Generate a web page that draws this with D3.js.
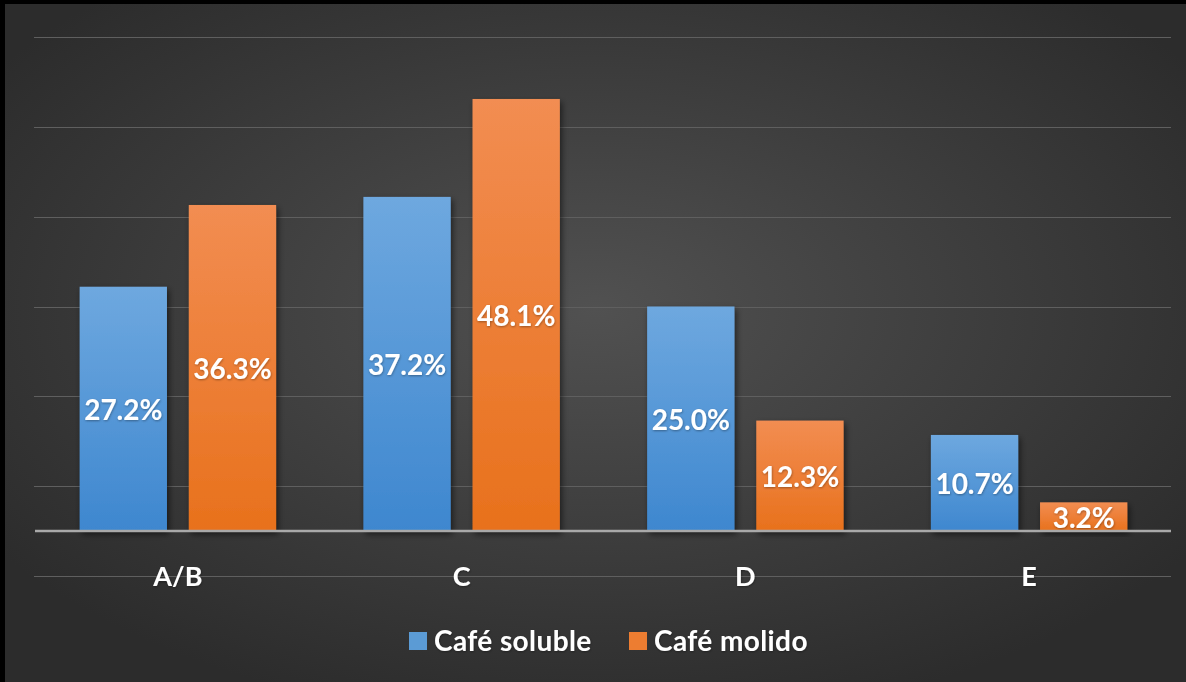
<!DOCTYPE html>
<html>
<head>
<meta charset="utf-8">
<script src="https://cdn.jsdelivr.net/npm/d3@7"></script>
<style>
  html, body { margin: 0; padding: 0; background: #000; }
  svg { display: block; }
  text { font-family: Lato, "Open Sans", sans-serif; font-weight: 700; fill: #fff; }
</style>
</head>
<body>
<svg id="chart" width="1186" height="682"></svg>
<script>
// Category groups and the two series (percent values)
const categories = ["A/B", "C", "D", "E"];
const seriesNames = ["Café soluble", "Café molido"];
const solubleValues = [27.2, 37.2, 25.0, 10.7];
const molidoValues = [36.3, 48.1, 12.3, 3.2];
// Horizontal gridline positions (percent)
const gridValues = [-5, 5, 15, 25, 35, 45, 55];

const W = 1186, H = 682;
const svg = d3.select("#chart");
const defs = svg.append("defs");

// Background: black frame with a radial dark-gray panel
const bg = defs.append("radialGradient").attr("id", "bgGrad")
  .attr("cx", "50%").attr("cy", "45%").attr("r", "62%");
bg.append("stop").attr("offset", "0%").attr("stop-color", "#515151");
bg.append("stop").attr("offset", "100%").attr("stop-color", "#2c2c2c");

const blueGrad = defs.append("linearGradient").attr("id", "blueGrad")
  .attr("x1", 0).attr("y1", 0).attr("x2", 0).attr("y2", 1);
blueGrad.append("stop").attr("offset", "0%").attr("stop-color", "#6ea8df");
blueGrad.append("stop").attr("offset", "100%").attr("stop-color", "#3e87cf");

const orangeGrad = defs.append("linearGradient").attr("id", "orangeGrad")
  .attr("x1", 0).attr("y1", 0).attr("x2", 0).attr("y2", 1);
orangeGrad.append("stop").attr("offset", "0%").attr("stop-color", "#f28d52");
orangeGrad.append("stop").attr("offset", "100%").attr("stop-color", "#e8711c");

const shadow = defs.append("filter").attr("id", "barShadow")
  .attr("x", "-20%").attr("y", "-20%").attr("width", "140%").attr("height", "140%");
shadow.append("feDropShadow").attr("dx", 2).attr("dy", 3).attr("stdDeviation", 3)
  .attr("flood-color", "#000").attr("flood-opacity", 0.55);

const textShadow = defs.append("filter").attr("id", "textShadow")
  .attr("x", "-10%").attr("y", "-20%").attr("width", "120%").attr("height", "140%");
textShadow.append("feDropShadow").attr("dx", 0.5).attr("dy", 1).attr("stdDeviation", 1)
  .attr("flood-color", "#000").attr("flood-opacity", 0.35);

svg.append("rect").attr("width", W).attr("height", H).attr("fill", "#000");
svg.append("rect").attr("x", 5).attr("y", 4).attr("width", W - 5).attr("height", H - 4)
  .attr("fill", "url(#bgGrad)");

// Scales
const x0 = d3.scaleBand().domain(categories).range([36, 1171]).padding(0);
const x1 = d3.scaleBand().domain(seriesNames).range([0, x0.bandwidth()])
  .paddingInner(0.2).paddingOuter(0.4);
const y = d3.scaleLinear().domain([-5, 55]).range([576, 37]);

// Gridlines
svg.append("g").selectAll("line").data(gridValues).join("line")
  .attr("x1", 34).attr("x2", 1171)
  .attr("y1", d => Math.round(y(d)) + 0.5).attr("y2", d => Math.round(y(d)) + 0.5)
  .attr("stroke", "#5f5f5f").attr("stroke-width", 1.2);

// Bars
const rows = categories.map((c, i) => ({
  cat: c,
  vals: [
    { key: seriesNames[0], v: solubleValues[i], fill: "url(#blueGrad)" },
    { key: seriesNames[1], v: molidoValues[i], fill: "url(#orangeGrad)" }
  ]
}));

const groups = svg.append("g").selectAll("g").data(rows).join("g")
  .attr("transform", d => `translate(${x0(d.cat)},0)`);

groups.selectAll("rect").data(d => d.vals).join("rect")
  .attr("x", d => x1(d.key))
  .attr("width", x1.bandwidth())
  .attr("y", d => y(d.v))
  .attr("height", d => y(0) - y(d.v))
  .attr("fill", d => d.fill)
  .attr("filter", "url(#barShadow)");

// Category axis line at zero
svg.append("line")
  .attr("x1", 35).attr("x2", 1171)
  .attr("y1", y(0)).attr("y2", y(0))
  .attr("stroke", "#a9a9a9").attr("stroke-width", 2.5);

// Data labels, centred in each bar
groups.selectAll("text.val").data(d => d.vals).join("text")
  .attr("class", "val")
  .attr("x", d => x1(d.key) + x1.bandwidth() / 2)
  .attr("y", d => (y(d.v) + y(0)) / 2)
  .attr("text-anchor", "middle")
  .attr("dominant-baseline", "central")
  .attr("font-size", 28)
  .attr("filter", "url(#textShadow)")
  .text(d => d.v.toFixed(1) + "%");

// Category labels
const xAxis = d3.axisBottom(x0).tickSize(0).tickPadding(0);
const axisG = svg.append("g").attr("transform", `translate(0,${y(-5)})`).call(xAxis);
axisG.select(".domain").remove();
axisG.selectAll("text")
  .attr("y", 0).attr("dy", "0.36em")
  .attr("font-size", 27)
  .attr("filter", "url(#textShadow)")
  .style("font-family", "Lato, 'Open Sans', sans-serif")
  .style("font-weight", 700)
  .attr("fill", "#fff");

// Legend
const legendItems = [
  { name: seriesNames[0], color: "#5b9bd5", x: 409 },
  { name: seriesNames[1], color: "#ed7d31", x: 629 }
];
const lg = svg.append("g").selectAll("g").data(legendItems).join("g")
  .attr("transform", d => `translate(${d.x},632)`);
lg.append("rect").attr("width", 18).attr("height", 18).attr("fill", d => d.color);
lg.append("text").attr("x", 25).attr("y", 9).attr("dy", "0.36em")
  .attr("font-size", 28).attr("letter-spacing", 0.4)
  .attr("filter", "url(#textShadow)")
  .text(d => d.name);
</script>
</body>
</html>
